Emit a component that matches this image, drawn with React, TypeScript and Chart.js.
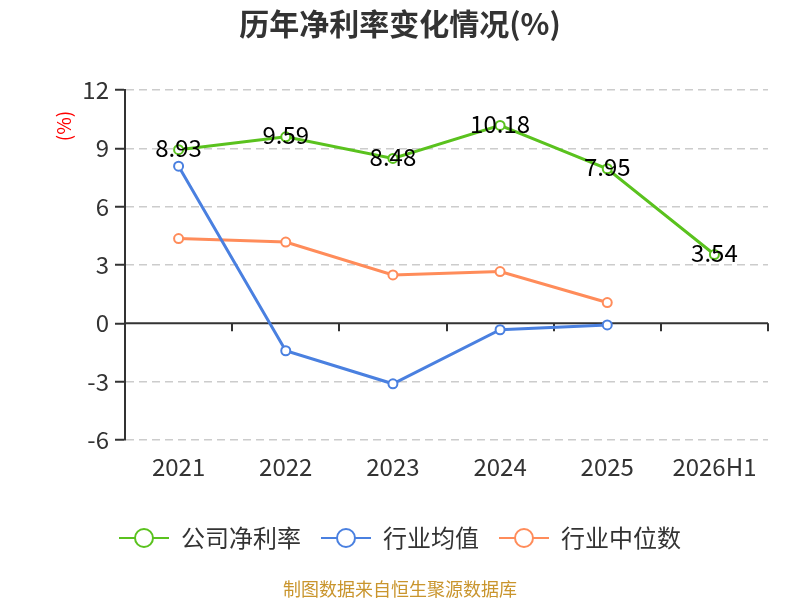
import { useEffect, useRef } from "react";
import { Chart, ChartConfiguration, registerables } from "chart.js";

Chart.register(...registerables);

const FONT = "'Noto Sans CJK SC', 'Noto Sans', sans-serif";

const categories = ["2021", "2022", "2023", "2024", "2025", "2026H1"];
const companyNetMargin = [8.93, 9.59, 8.48, 10.18, 7.95, 3.54];
const industryMean = [8.08, -1.41, -3.11, -0.33, -0.08, null];
const industryMedian = [4.36, 4.18, 2.49, 2.66, 1.07, null];
const yTickValues = [-6, -3, 0, 3, 6, 9, 12];

const seriesNames = ["公司净利率", "行业均值", "行业中位数"];
const seriesColors = ["#5ac21e", "#4a80e0", "#ff8c5a"];

// legend marker: short line with a hollow circle in the middle
function makeMarker(color: string) {
  const c = document.createElement("canvas");
  c.width = 50;
  c.height = 24;
  const g = c.getContext("2d")!;
  g.strokeStyle = color;
  g.lineWidth = 2;
  g.beginPath();
  g.moveTo(0, 12);
  g.lineTo(50, 12);
  g.stroke();
  g.beginPath();
  g.arc(25, 12, 9, 0, Math.PI * 2);
  g.fillStyle = "#fff";
  g.fill();
  g.stroke();
  return c;
}

const decorPlugin = {
  id: "decor",
  beforeDatasetsDraw(chart: any) {
    const { ctx, chartArea, scales } = chart;
    const x = scales.x;
    const y0 = scales.y.getPixelForValue(0);
    ctx.save();
    ctx.strokeStyle = "#333";
    ctx.lineWidth = 2;
    ctx.beginPath();
    ctx.moveTo(chartArea.left, y0);
    ctx.lineTo(chartArea.right, y0);
    for (let i = 1; i <= categories.length; i++) {
      const bx = Math.round(x.getPixelForValue(i - 0.5));
      ctx.moveTo(bx, y0);
      ctx.lineTo(bx, y0 + 8);
    }
    ctx.stroke();
    // unit label
    ctx.translate(63.5, chartArea.top + 36);
    ctx.rotate(-Math.PI / 2);
    ctx.fillStyle = "#ff0000";
    ctx.font = `19px ${FONT}`;
    ctx.textAlign = "center";
    ctx.textBaseline = "middle";
    ctx.fillText("(%)", 0, 0);
    ctx.restore();
  },
  afterDatasetsDraw(chart: any) {
    const { ctx } = chart;
    const meta = chart.getDatasetMeta(0);
    ctx.save();
    ctx.fillStyle = "#000";
    ctx.font = `24px ${FONT}`;
    ctx.textAlign = "center";
    ctx.textBaseline = "middle";
    meta.data.forEach((pt: any, i: number) => {
      ctx.fillText(String(companyNetMargin[i]), pt.x, pt.y - 2);
    });
    ctx.restore();
  },
};

export default function App() {
  const canvasRef = useRef<HTMLCanvasElement>(null);
  const chartRef = useRef<Chart | null>(null);

  useEffect(() => {
    document.body.style.margin = "0";
    if (!canvasRef.current) return;
    const ctx = canvasRef.current.getContext("2d");
    if (!ctx) return;
    if (chartRef.current) chartRef.current.destroy();

    Chart.defaults.font.family = FONT;
    const markers = seriesColors.map(makeMarker);
    const seriesData = [companyNetMargin, industryMean, industryMedian];

    const config: ChartConfiguration = {
      type: "line",
      data: {
        labels: categories,
        datasets: seriesData.map((d, i) => ({
          label: seriesNames[i],
          data: d as any,
          borderColor: seriesColors[i],
          backgroundColor: "#fff",
          borderWidth: 3,
          pointRadius: 4.5,
          pointBorderWidth: 2,
          pointBackgroundColor: "#fff",
          pointBorderColor: seriesColors[i],
          tension: 0,
        })),
      },
      options: {
        responsive: false,
        animation: false,
        layout: { padding: 0 },
        scales: {
          x: {
            type: "category",
            offset: true,
            grid: { display: false },
            border: { display: false },
            ticks: { color: "#333", font: { size: 24 }, padding: 4 },
            afterFit: (s: any) => {
              s.height = 66;
            },
          },
          y: {
            min: yTickValues[0],
            max: yTickValues[yTickValues.length - 1],
            ticks: {
              stepSize: yTickValues[1] - yTickValues[0],
              color: "#333",
              font: { size: 24 },
              padding: 6,
            },
            grid: {
              color: (c: any) => (c.tick && c.tick.value === 0 ? "rgba(0,0,0,0)" : "#ccc"),
              lineWidth: 1.5,
              tickLength: 10,
              tickColor: "#333",
              tickWidth: 2,
            },
            border: { display: true, color: "#333", width: 2, dash: [8, 5] },
            afterFit: (s: any) => {
              s.width = 125;
            },
          },
          yRight: {
            position: "right",
            display: true,
            grid: { display: false },
            border: { display: false },
            ticks: { display: false },
            afterFit: (s: any) => {
              s.width = 32;
            },
          },
        } as any,
        plugins: {
          title: {
            display: true,
            text: "历年净利率变化情况(%)",
            color: "#333",
            font: { size: 30, weight: "bold" },
            padding: { top: 6, bottom: 48 },
          },
          subtitle: {
            display: true,
            position: "bottom",
            text: "制图数据来自恒生聚源数据库",
            color: "#c9952d",
            font: { size: 18 },
            padding: { top: 18.4, bottom: 0 },
          },
          legend: {
            position: "bottom",
            labels: {
              usePointStyle: true,
              pointStyleWidth: 50,
              color: "#333",
              font: { size: 24 },
              padding: 20,
              generateLabels: (chart: any) =>
                Chart.defaults.plugins.legend.labels
                  .generateLabels(chart)
                  .map((item: any, i: number) => ({ ...item, pointStyle: markers[i] })),
            },
          },
          tooltip: { enabled: false },
        },
      },
      plugins: [decorPlugin],
    };

    chartRef.current = new Chart(ctx, config);
    return () => {
      if (chartRef.current) {
        chartRef.current.destroy();
        chartRef.current = null;
      }
    };
  }, []);

  return <canvas ref={canvasRef} width={800} height={600}></canvas>;
}
